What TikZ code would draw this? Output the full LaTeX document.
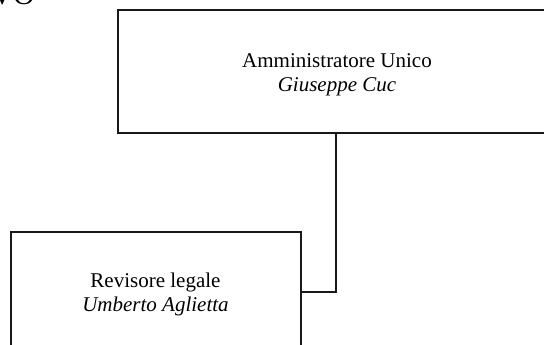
\documentclass[tikz,border=0pt]{standalone}
\usepackage{fontspec}
\setmainfont{Liberation Serif}
\begin{document}
\begin{tikzpicture}[x=1pt,y=-1pt,
  orgbox/.style={draw=black!90, line width=2pt, fill=white, inner sep=0pt},
  orgtext/.style={font=\fontsize{21}{25}\selectfont, align=center, inner sep=0pt, anchor=base}]
\useasboundingbox (0,0) rectangle (544,345);
\clip (0,0) rectangle (544,345);
% cut-off heading at top left
\node[font=\fontsize{30}{30}\selectfont, anchor=base east, inner sep=0pt] (head) at (35,4.5) {VO};
% boxes
\node[orgbox, minimum width=438pt, minimum height=122.5pt] (top) at (337,71.75) {};
\node[orgbox, minimum width=290pt, minimum height=120pt] (bot) at (156,291.5) {};
% texts
\node[orgtext] (t1) at (337,67) {Amministratore Unico};
\node[orgtext] (t2) at (337,92) {\itshape Giuseppe Cuc};
\node[orgtext] (b1) at (155.5,287) {Revisore legale};
\node[orgtext] (b2) at (155.5,311) {\itshape Umberto Aglietta};
% connector
\draw[line width=2pt, black!90] ([xshift=-1pt]top.south) |- (bot.east);
\end{tikzpicture}
\end{document}
